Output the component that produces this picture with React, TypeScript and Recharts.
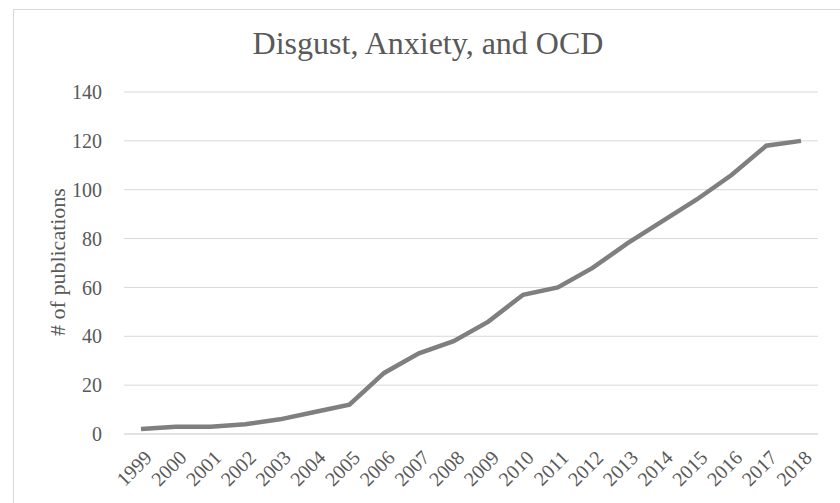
import React from 'react';
import { LineChart, Line, XAxis, YAxis, CartesianGrid } from 'recharts';

const years = [
  '1999', '2000', '2001', '2002', '2003', '2004', '2005', '2006', '2007', '2008',
  '2009', '2010', '2011', '2012', '2013', '2014', '2015', '2016', '2017', '2018',
];
const publications = [2, 3, 3, 4, 6, 9, 12, 25, 33, 38, 46, 57, 60, 68, 78, 87, 96, 106, 118, 120];
const yTicks = [0, 20, 40, 60, 80, 100, 120, 140];

const data = years.map((year, i) => ({ year, count: publications[i] }));

const FONT = '"Liberation Serif", "Times New Roman", serif';
const TEXT = '#595959';
const GRID = '#d9d9d9';

const YLabel = () => (
  <text
    x={57}
    y={262}
    transform="rotate(-90 57 262)"
    textAnchor="middle"
    dominantBaseline="central"
    fill={TEXT}
    fontFamily={FONT}
    fontSize={22}
  >
    # of publications
  </text>
);

export default function App() {
  return (
    <div style={{ position: 'absolute', left: 0, top: 0, width: 840, height: 503, background: '#fff', overflow: 'hidden' }}>
      {/* chart frame, cut off on right and bottom like the source */}
      <div style={{ position: 'absolute', left: 13, top: 9, width: 900, height: 600, border: `1px solid ${GRID}` }} />
      <div
        style={{
          position: 'absolute', left: 0, top: 23, width: 856, textAlign: 'center',
          fontFamily: FONT, fontSize: 32, color: TEXT, lineHeight: '40px',
        }}
      >
        Disgust, Anxiety, and OCD
      </div>
      <div style={{ position: 'absolute', left: 0, top: 0 }}>
        <LineChart width={840} height={503} data={data} margin={{ top: 92, right: 22, bottom: 9, left: 54 }}>
          <CartesianGrid vertical={false} stroke={GRID} strokeWidth={1} />
          <XAxis
            dataKey="year"
            interval={0}
            height={60}
            padding={{ left: 17, right: 17 }}
            tickLine={false}
            axisLine={{ stroke: GRID }}
            tickMargin={9}
            angle={-45}
            textAnchor="end"
            tick={{ fill: TEXT, fontFamily: FONT, fontSize: 20, dx: 2 }}
          />
          <YAxis
            domain={[0, 140]}
            ticks={yTicks}
            width={70}
            tickLine={false}
            axisLine={false}
            tickMargin={16}
            tick={{ fill: TEXT, fontFamily: FONT, fontSize: 20 }}
            label={<YLabel />}
          />
          <Line
            type="linear"
            dataKey="count"
            stroke="#7f7f7f"
            strokeWidth={4.5}
            dot={false}
            isAnimationActive={false}
          />
        </LineChart>
      </div>
    </div>
  );
}
